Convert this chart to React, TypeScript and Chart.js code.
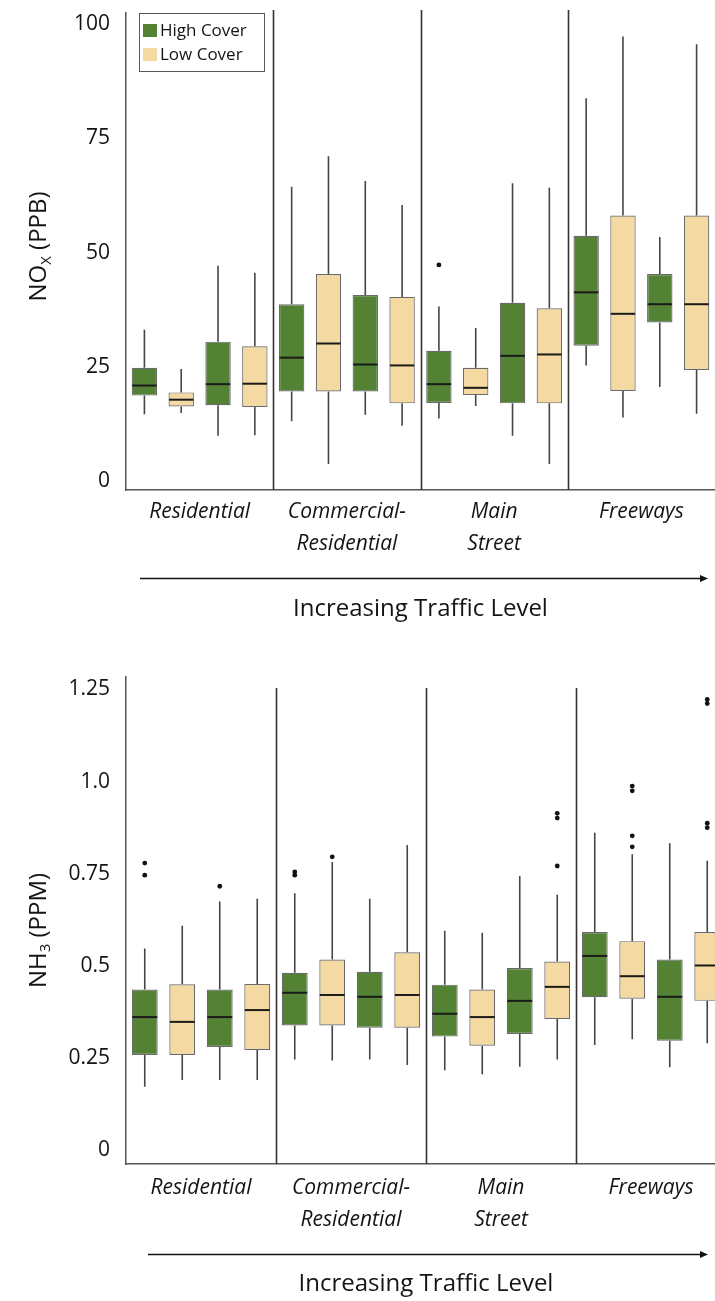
import React, { useEffect, useRef } from "react";
import { Chart, registerables } from "chart.js";

Chart.register(...registerables);

const FONT = "'Open Sans', 'Noto Sans', sans-serif";
const TEXT = "#141414";
const AXIS = "#555555";

// Road types along the traffic gradient
const groupLabels: (string | string[])[] = [
  "Residential",
  ["Commercial-", "Residential"],
  ["Main", "Street"],
  "Freeways",
];

// Four boxes per road type, alternating high / low canopy cover
const boxLabels = [
  "Residential High Cover A", "Residential Low Cover A", "Residential High Cover B", "Residential Low Cover B",
  "Commercial-Residential High Cover A", "Commercial-Residential Low Cover A", "Commercial-Residential High Cover B", "Commercial-Residential Low Cover B",
  "Main Street High Cover A", "Main Street Low Cover A", "Main Street High Cover B", "Main Street Low Cover B",
  "Freeways High Cover A", "Freeways Low Cover A", "Freeways High Cover B", "Freeways Low Cover B",
];

const seriesNames = ["High Cover", "Low Cover"];
const seriesColors = ["#548235", "#F5D9A2"];

// NOx (ppb) box statistics, one entry per box
const noxMin = [14.6, 14.9, 9.9, 10.0, 13.1, 3.7, 14.5, 12.1, 13.7, 16.4, 9.9, 3.7, 25.3, 13.9, 20.6, 14.7];
const noxQ1 = [18.7, 16.3, 16.6, 16.2, 19.6, 19.6, 19.6, 17.0, 17.1, 18.8, 17.0, 17.0, 29.6, 19.7, 34.7, 24.3];
const noxMedian = [20.9, 17.8, 21.2, 21.3, 27.0, 30.1, 25.5, 25.3, 21.2, 20.4, 27.4, 27.7, 41.3, 36.6, 38.7, 38.7];
const noxQ3 = [24.8, 19.4, 30.5, 29.5, 38.7, 45.3, 40.7, 40.3, 28.5, 24.8, 39.0, 37.8, 53.7, 58.1, 45.3, 58.1];
const noxMax = [33.1, 24.5, 47.1, 45.6, 64.4, 71.1, 65.7, 60.4, 38.2, 33.5, 65.2, 64.2, 83.8, 97.3, 53.4, 95.6];
const noxOutliers: number[][] = [[], [], [], [], [], [], [], [], [47.3], [], [], [], [], [], [], []];
const noxTicks = [0, 25, 50, 75, 100];
const noxTickLabels = ["0", "25", "50", "75", "100"];

// NH3 (ppm) box statistics, one entry per box
const nh3Min = [0.172, 0.19, 0.19, 0.19, 0.246, 0.243, 0.246, 0.231, 0.217, 0.206, 0.226, 0.246, 0.285, 0.301, 0.225, 0.29];
const nh3Q1 = [0.258, 0.258, 0.28, 0.272, 0.338, 0.338, 0.332, 0.332, 0.308, 0.283, 0.315, 0.356, 0.415, 0.411, 0.297, 0.405];
const nh3Median = [0.361, 0.348, 0.361, 0.38, 0.427, 0.421, 0.416, 0.421, 0.37, 0.361, 0.405, 0.443, 0.527, 0.472, 0.416, 0.501];
const nh3Q3 = [0.436, 0.45, 0.436, 0.451, 0.481, 0.517, 0.484, 0.537, 0.449, 0.436, 0.494, 0.512, 0.592, 0.567, 0.517, 0.592];
const nh3Max = [0.547, 0.609, 0.675, 0.682, 0.697, 0.782, 0.682, 0.828, 0.595, 0.59, 0.744, 0.693, 0.861, 0.803, 0.833, 0.785];
const nh3Outliers: number[][] = [
  [0.779, 0.746], [], [0.716], [],
  [0.755, 0.746], [0.796], [], [],
  [], [], [], [0.914, 0.901, 0.771],
  [], [0.988, 0.975, 0.853, 0.823], [], [1.223, 1.212, 0.887, 0.875],
];
const nh3Ticks = [0, 0.25, 0.5, 0.75, 1.0, 1.25];
const nh3TickLabels = ["0", "0.25", "0.5", "0.75", "1.0", "1.25"];

type PanelSpec = {
  min: number[];
  q1: number[];
  median: number[];
  q3: number[];
  max: number[];
  outliers: number[][];
  ticks: number[];
  tickLabels: string[];
  yMin: number;
  yMax: number;
  titleMain: string;
  titleSub: string;
  titleRest: string;
  titleX: number;
  titleY: number;
  padTop: number;
  axisBoxHeight: number;
  groupPad: number;
  titlePad: number;
  sepTop: number;
  arrowOffset: number;
  arrowStart: number;
  arrowEnd: number;
  legend: boolean;
};

const noxPanel: PanelSpec = {
  min: noxMin, q1: noxQ1, median: noxMedian, q3: noxQ3, max: noxMax, outliers: noxOutliers,
  ticks: noxTicks, tickLabels: noxTickLabels,
  yMin: -1.97, yMax: 102.45,
  titleMain: "NO", titleSub: "X", titleRest: " (PPB)",
  titleX: 37.5, titleY: 246.5,
  padTop: 13, axisBoxHeight: 160, groupPad: 6.5, titlePad: 26.5,
  sepTop: -3, arrowOffset: 88, arrowStart: 140, arrowEnd: 708,
  legend: true,
};

const nh3Panel: PanelSpec = {
  min: nh3Min, q1: nh3Q1, median: nh3Median, q3: nh3Q3, max: nh3Max, outliers: nh3Outliers,
  ticks: nh3Ticks, tickLabels: nh3TickLabels,
  yMin: -0.0377, yMax: 1.2839,
  titleMain: "NH", titleSub: "3", titleRest: " (PPM)",
  titleX: 37, titleY: 280.5,
  padTop: 27, axisBoxHeight: 137, groupPad: 8.3, titlePad: 2,
  sepTop: 11, arrowOffset: 90, arrowStart: 148, arrowEnd: 708,
  legend: false,
};

function drawYTitle(ctx: CanvasRenderingContext2D, spec: PanelSpec) {
  const size = 24;
  const big = `${size}px ${FONT}`;
  const small = `${Math.round(size * 0.62)}px ${FONT}`;
  ctx.save();
  ctx.translate(spec.titleX, spec.titleY);
  ctx.rotate(-Math.PI / 2);
  ctx.font = big;
  const w1 = ctx.measureText(spec.titleMain).width;
  const w3 = ctx.measureText(spec.titleRest).width;
  ctx.font = small;
  const w2 = ctx.measureText(spec.titleSub).width;
  let x = -(w1 + w2 + w3) / 2;
  const base = size * 0.36;
  ctx.fillStyle = TEXT;
  ctx.textBaseline = "alphabetic";
  ctx.font = big;
  ctx.fillText(spec.titleMain, x, base);
  x += w1;
  ctx.font = small;
  ctx.fillText(spec.titleSub, x, base + size * 0.2);
  x += w2;
  ctx.font = big;
  ctx.fillText(spec.titleRest, x, base);
  ctx.restore();
}

function boxPlotPlugin(spec: PanelSpec) {
  return {
    id: "boxPlotParts",
    beforeDatasetsDraw(chart: any) {
      const { ctx, chartArea, scales } = chart;
      const x = scales.x;
      const y = scales.y;
      ctx.save();
      // road-type separators
      ctx.strokeStyle = "#333333";
      ctx.lineWidth = 1.6;
      for (let b = 4; b < boxLabels.length; b += 4) {
        const px = Math.round((x.getPixelForValue(b - 1) + x.getPixelForValue(b)) / 2) + 0.5;
        ctx.beginPath();
        ctx.moveTo(px, chartArea.top + spec.sepTop);
        ctx.lineTo(px, chartArea.bottom);
        ctx.stroke();
      }
      // whiskers
      ctx.strokeStyle = "#454545";
      ctx.lineWidth = 1.6;
      spec.max.forEach((hi, i) => {
        const cx = x.getPixelForValue(i);
        ctx.beginPath();
        ctx.moveTo(cx, y.getPixelForValue(hi));
        ctx.lineTo(cx, y.getPixelForValue(spec.q3[i]));
        ctx.moveTo(cx, y.getPixelForValue(spec.q1[i]));
        ctx.lineTo(cx, y.getPixelForValue(spec.min[i]));
        ctx.stroke();
      });
      ctx.restore();
    },
    afterDatasetsDraw(chart: any) {
      const { ctx, scales } = chart;
      const x = scales.x;
      const y = scales.y;
      ctx.save();
      // medians
      ctx.strokeStyle = "#1a1a1a";
      ctx.lineWidth = 2;
      spec.median.forEach((m, i) => {
        const el = chart.getDatasetMeta(i % 2).data[i];
        const half = el.width / 2 - 0.5;
        const py = y.getPixelForValue(m);
        ctx.beginPath();
        ctx.moveTo(el.x - half, py);
        ctx.lineTo(el.x + half, py);
        ctx.stroke();
      });
      // outliers
      ctx.fillStyle = "#111111";
      spec.outliers.forEach((pts, i) => {
        const cx = x.getPixelForValue(i);
        pts.forEach((v) => {
          ctx.beginPath();
          ctx.arc(cx, y.getPixelForValue(v), 2.4, 0, Math.PI * 2);
          ctx.fill();
        });
      });
      ctx.restore();
    },
    afterDraw(chart: any) {
      const { ctx, chartArea } = chart;
      ctx.save();
      // traffic arrow
      const ay = Math.round(chartArea.bottom + spec.arrowOffset) + 0.5;
      ctx.strokeStyle = "#111111";
      ctx.fillStyle = "#111111";
      ctx.lineWidth = 1.3;
      ctx.beginPath();
      ctx.moveTo(spec.arrowStart, ay);
      ctx.lineTo(spec.arrowEnd - 6, ay);
      ctx.stroke();
      ctx.beginPath();
      ctx.moveTo(spec.arrowEnd, ay);
      ctx.lineTo(spec.arrowEnd - 8, ay - 3.5);
      ctx.lineTo(spec.arrowEnd - 8, ay + 3.5);
      ctx.closePath();
      ctx.fill();

      drawYTitle(ctx, spec);

      if (spec.legend) {
        ctx.strokeStyle = "#5a5a5a";
        ctx.lineWidth = 1;
        ctx.strokeRect(139.5, 13.5, 125, 58);
        ctx.font = `17px ${FONT}`;
        ctx.textBaseline = "middle";
        ctx.textAlign = "left";
        seriesNames.forEach((name, s) => {
          const cy = 30.5 + s * 24;
          ctx.fillStyle = seriesColors[s];
          ctx.fillRect(143, cy - 6.5, 14, 13);
          ctx.fillStyle = TEXT;
          ctx.fillText(name, 160, cy + 0.5);
        });
      }
      ctx.restore();
    },
  };
}

function buildConfig(spec: PanelSpec): any {
  return {
    type: "bar",
    data: {
      labels: boxLabels,
      datasets: seriesNames.map((name, s) => ({
        label: name,
        data: spec.q1.map((v, i) => (i % 2 === s ? [v, spec.q3[i]] : null)),
        backgroundColor: seriesColors[s],
        borderColor: "#6a6a6a",
        borderWidth: 1.2,
        borderSkipped: false,
        barPercentage: 0.69,
        categoryPercentage: 1,
        grouped: false,
      })),
    },
    options: {
      responsive: false,
      animation: false,
      events: [],
      layout: { padding: { top: spec.padTop, left: 0, right: 0, bottom: 0 } },
      plugins: { legend: { display: false }, tooltip: { enabled: false } },
      scales: {
        x: {
          type: "category",
          offset: true,
          grid: { display: false, drawTicks: false },
          ticks: { display: false },
          border: { display: true, color: AXIS, width: 1.5 },
          afterFit: (s: any) => {
            s.height = 0;
          },
        },
        x2: {
          type: "category",
          position: "bottom",
          labels: groupLabels,
          offset: true,
          grid: { display: false, drawTicks: false },
          border: { display: false },
          ticks: {
            color: TEXT,
            padding: spec.groupPad,
            maxRotation: 0,
            autoSkip: false,
            font: { family: FONT, size: 21, style: "italic", lineHeight: "32px" },
          },
          title: {
            display: true,
            text: "Increasing Traffic Level",
            color: TEXT,
            font: { family: FONT, size: 24 },
            padding: { top: 0, bottom: spec.titlePad },
          },
          afterFit: (s: any) => {
            s.height = spec.axisBoxHeight;
          },
        },
        y: {
          type: "linear",
          min: spec.yMin,
          max: spec.yMax,
          grid: { display: false, drawTicks: false },
          border: { display: true, color: AXIS, width: 1.5 },
          afterBuildTicks: (s: any) => {
            s.ticks = spec.ticks.map((v) => ({ value: v }));
          },
          ticks: {
            color: TEXT,
            padding: 16,
            font: { family: FONT, size: 21 },
            callback: (_v: any, i: number) => spec.tickLabels[i],
          },
          afterFit: (s: any) => {
            s.width = 126;
            s.paddingTop = 0;
            s.paddingBottom = 0;
          },
        },
      },
    },
    plugins: [boxPlotPlugin(spec)],
  };
}

function PanelChart({ spec, width, height, top }: { spec: PanelSpec; width: number; height: number; top: number }) {
  const ref = useRef<HTMLCanvasElement>(null);
  useEffect(() => {
    const chart = new Chart(ref.current as HTMLCanvasElement, buildConfig(spec));
    return () => chart.destroy();
  }, [spec]);
  return (
    <canvas
      ref={ref}
      width={width}
      height={height}
      style={{ position: "absolute", left: 0, top, width, height, display: "block" }}
    />
  );
}

export default function App() {
  return (
    <div
      style={{
        position: "absolute",
        left: 0,
        top: 0,
        width: 715,
        height: 1301,
        overflow: "hidden",
        background: "#ffffff",
      }}
    >
      <PanelChart spec={noxPanel} width={715} height={650} top={0} />
      <PanelChart spec={nh3Panel} width={726} height={651} top={650} />
    </div>
  );
}
